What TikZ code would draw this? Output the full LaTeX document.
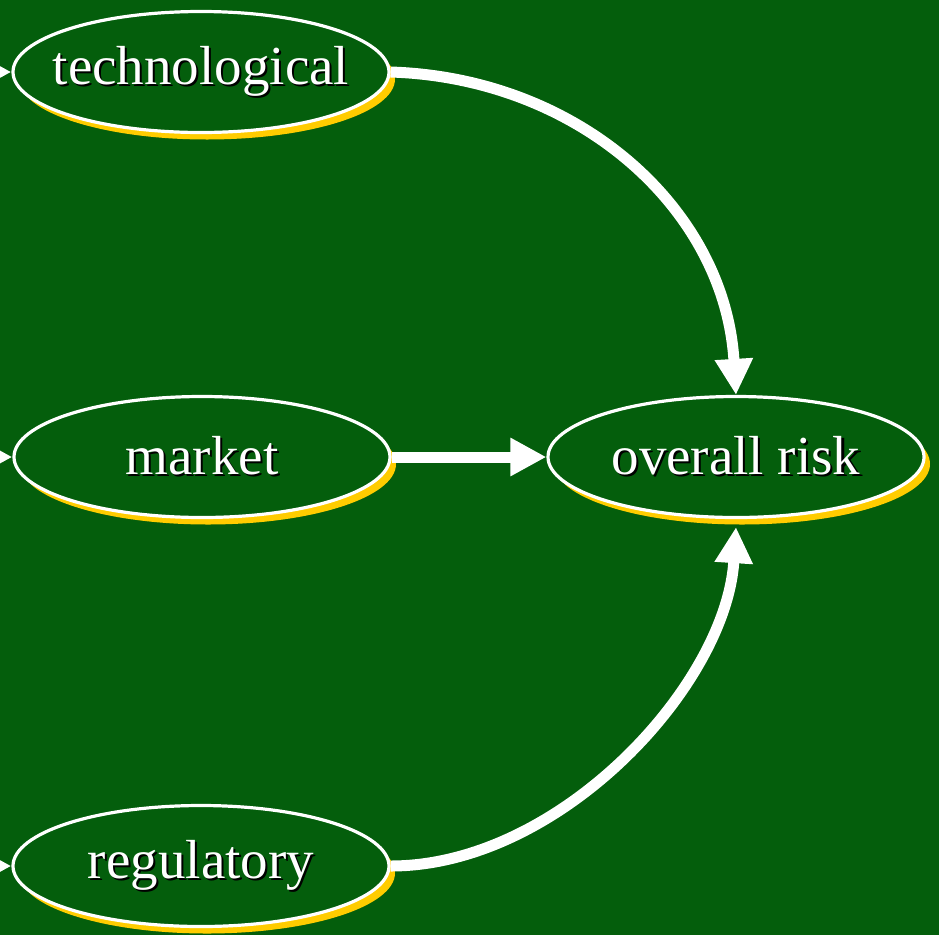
\documentclass[tikz,border=0pt]{standalone}
\usepackage{fontspec}
\setmainfont{Liberation Serif}
\usetikzlibrary{arrows.meta,shapes.geometric,shadows,calc}
\definecolor{boardgreen}{RGB}{4,94,12}
\definecolor{shadowgold}{RGB}{255,204,0}
% white label with a small black drop shadow; zero width so the ellipse keeps its size
\newcommand\shadowed[1]{\makebox[0pt]{\raisebox{-3pt}{\rlap{\kern2pt\raisebox{-2pt}{\color{black}#1}}#1}}}
\begin{document}
\begin{tikzpicture}[x=1pt,y=-1pt,
  factor/.style={ellipse, draw=white, line width=3.2pt, fill=boardgreen,
    minimum width=376pt, minimum height=121pt, inner sep=0pt, text=white,
    font=\fontsize{55}{60}\selectfont,
    drop shadow={shadow xshift=6pt, shadow yshift=-7pt, fill=shadowgold, opacity=1}},
  link/.style={draw=white, line width=11pt, -{Triangle[length=36pt,width=36pt]}}]
\fill[boardgreen] (0,0) rectangle (939,935);
\useasboundingbox (0,0) rectangle (939,935);
\clip (0,0) rectangle (939,935);

% risk factors and the combined node
\node[factor] (tech) at (201,72)  {\shadowed{technological}};
\node[factor] (mkt)  at (202,457) {\shadowed{market}};
\node[factor] (reg)  at (201,866) {\shadowed{regulatory}};
\node[factor] (risk) at (736,457) {\shadowed{overall risk}};

% incoming links from the left margin
\coordinate (inT) at (-80,72);
\coordinate (inM) at (-80,457);
\coordinate (inR) at (-80,866);
\draw[link] (inT) -- (tech.west);
\draw[link] (inM) -- (mkt.west);
\draw[link] (inR) -- (reg.west);

% links into the overall risk
\draw[link] (tech.east) .. controls (580,78) and (725,210) .. (risk.north);
\draw[link] (mkt.east) -- (risk.west);
\coordinate (riskFoot) at ($(risk.south)+(0,8)$);
\draw[link] (reg.east) .. controls (560,866) and (726,685) .. (riskFoot);
\end{tikzpicture}
\end{document}
